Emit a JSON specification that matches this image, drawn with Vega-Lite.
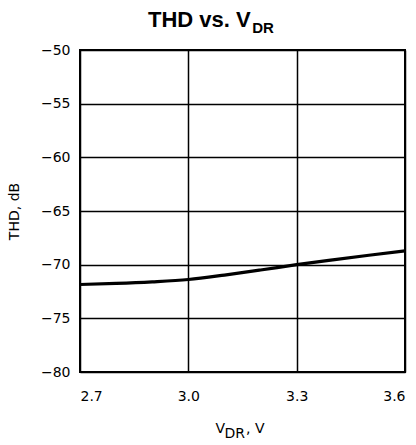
{
  "$schema": "https://vega.github.io/schema/vega-lite/v6.json",
  "autosize": {"type": "none"},
  "padding": {"left": 80, "top": 50, "right": 11, "bottom": 73},
  "width": 325,
  "height": 322,
  "background": "white",
  "title": {
    "text": "THD vs. V",
    "subtitle": "\u200b\u00a0\u00a0\u00a0\u00a0\u00a0\u00a0\u00a0\u00a0\u00a0\u00a0\u00a0\u00a0\u00a0\u00a0\u00a0\u00a0\u00a0\u00a0\u00a0\u00a0\u00a0\u00a0\u00a0\u00a0\u00a0DR",
    "anchor": "start",
    "frame": "group",
    "dx": 68,
    "font": "Liberation Sans",
    "fontSize": 22,
    "fontWeight": "bold",
    "color": "black",
    "subtitleFont": "Liberation Sans",
    "subtitleFontSize": 15,
    "subtitleFontWeight": "bold",
    "subtitleColor": "black",
    "subtitlePadding": -11,
    "offset": 6
  },
  "config": {
    "view": {"stroke": "black", "strokeWidth": 2},
    "axis": {
      "labelFont": "DejaVu Sans",
      "labelFontSize": 14,
      "labelColor": "black",
      "titleFont": "DejaVu Sans",
      "titleFontSize": 14,
      "titleFontWeight": "normal",
      "titleColor": "black",
      "ticks": false,
      "domain": false,
      "grid": true,
      "gridColor": "black",
      "gridWidth": 1.5,
      "gridOpacity": 1
    }
  },
  "data": {
    "values": [
      {"vdr": 2.7, "thd": -71.85},
      {"vdr": 2.8, "thd": -71.75},
      {"vdr": 2.9, "thd": -71.6},
      {"vdr": 3.0, "thd": -71.38},
      {"vdr": 3.1, "thd": -70.97},
      {"vdr": 3.2, "thd": -70.5},
      {"vdr": 3.3, "thd": -70.0},
      {"vdr": 3.4, "thd": -69.55},
      {"vdr": 3.5, "thd": -69.12},
      {"vdr": 3.6, "thd": -68.72}
    ]
  },
  "mark": {"type": "line", "color": "black", "strokeWidth": 3.2, "interpolate": "monotone"},
  "encoding": {
    "x": {
      "field": "vdr",
      "type": "quantitative",
      "scale": {"domain": [2.7, 3.6], "nice": false, "zero": false},
      "axis": {
        "values": [2.7, 3.0, 3.3, 3.6],
        "format": ".1f",
        "title": ["V\u2002\u2002\u2002, V", "\u200b\u00a0\u00a0DR"],
        "titleAlign": "left",
        "titleBaseline": "top",
        "titleX": 135,
        "titleY": 49,
        "titleLineHeight": 5,
        "labelPadding": 17
      }
    },
    "y": {
      "field": "thd",
      "type": "quantitative",
      "scale": {"domain": [-80, -50], "nice": false, "zero": false},
      "axis": {"values": [-80, -75, -70, -65, -60, -55, -50], "title": "THD, dB", "labelPadding": 10, "titlePadding": 19}
    }
  }
}
